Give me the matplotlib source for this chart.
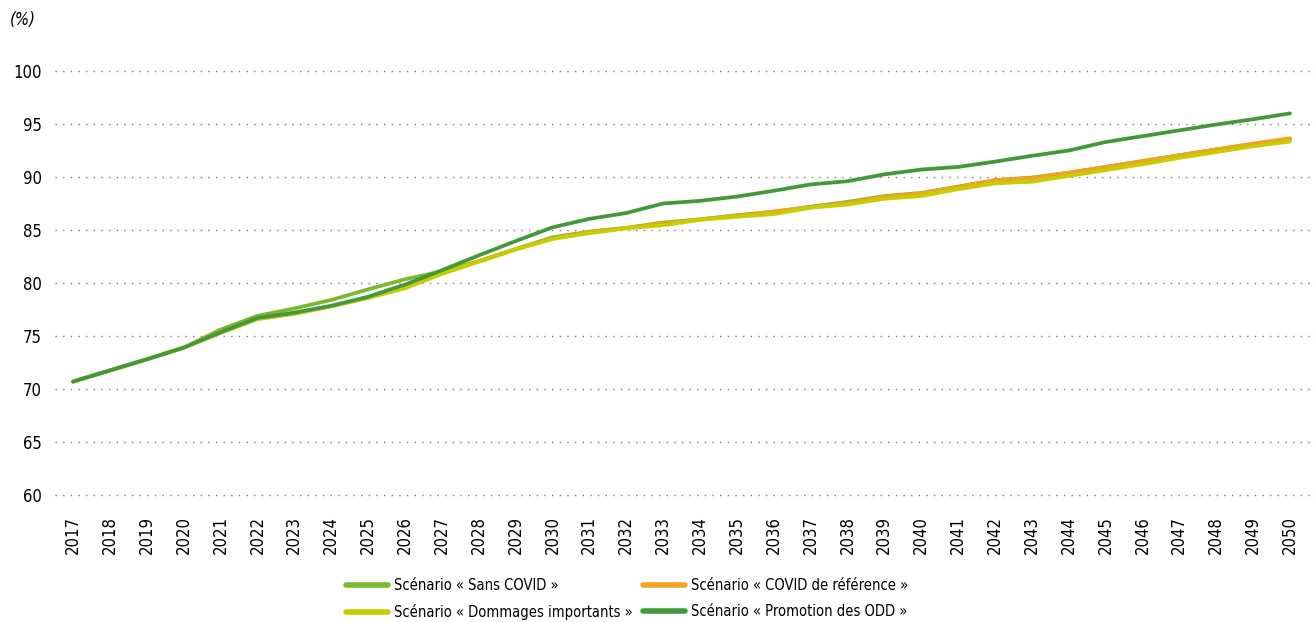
import matplotlib
matplotlib.use("Agg")
import matplotlib.pyplot as plt
from matplotlib import font_manager

years = list(range(2017, 2051))

sans_covid = [70.7, 71.75, 72.8, 73.9, 75.6, 76.9, 77.6, 78.4, 79.4, 80.35,
              81.1, 82.05, 83.2, 84.3, 84.85, 85.2, 85.7, 86.0, 86.4, 86.7,
              87.2, 87.65, 88.2, 88.5, 89.1, 89.7, 89.95, 90.4, 90.95, 91.5,
              92.05, 92.6, 93.1, 93.55]
covid_reference = [70.7, 71.75, 72.8, 73.9, 75.3, 76.6, 77.1, 77.8, 78.6, 79.55,
                   80.9, 82.05, 83.2, 84.2, 84.8, 85.2, 85.6, 86.0, 86.35, 86.75,
                   87.15, 87.55, 88.15, 88.45, 89.05, 89.7, 89.9, 90.4, 90.95, 91.5,
                   92.05, 92.6, 93.15, 93.65]
dommages_importants = [70.7, 71.75, 72.8, 73.9, 75.3, 76.6, 77.1, 77.8, 78.6, 79.5,
                       80.85, 82.0, 83.15, 84.15, 84.7, 85.15, 85.45, 85.95, 86.25, 86.5,
                       87.1, 87.4, 87.95, 88.2, 88.85, 89.4, 89.55, 90.1, 90.65, 91.2,
                       91.8, 92.35, 92.9, 93.35]
promotion_odd = [70.7, 71.75, 72.8, 73.9, 75.35, 76.7, 77.2, 77.85, 78.7, 79.85,
                 81.2, 82.6, 83.95, 85.25, 86.05, 86.6, 87.5, 87.75, 88.15, 88.7,
                 89.3, 89.6, 90.25, 90.7, 90.95, 91.45, 92.0, 92.5, 93.3, 93.85,
                 94.4, 94.95, 95.45, 96.0]

series_labels = ["Scénario « Sans COVID »", "Scénario « COVID de référence »",
                 "Scénario « Dommages importants »", "Scénario « Promotion des ODD »"]
series_colors = ["#7cb82f", "#f2a21e", "#c5cf00", "#42993a"]
y_ticks = [60, 65, 70, 75, 80, 85, 90, 95, 100]

# Prefer a condensed sans face if one is installed
narrow_family = None
narrow_stretch = "normal"
for f in font_manager.fontManager.ttflist:
    if f.style != "normal" or f.weight not in (400, "normal", "regular"):
        continue
    if "Narrow" in f.name or "Condensed" in f.name:
        narrow_family, narrow_stretch = f.name, "normal"
        break
    if f.stretch in ("condensed", "semi-condensed", "extra-condensed") and f.name in (
            "Roboto", "Open Sans", "Noto Sans", "Liberation Sans", "DejaVu Sans", "Lato", "Inter"):
        narrow_family, narrow_stretch = f.name, f.stretch
        break

if narrow_family:
    plt.rcParams["font.family"] = [narrow_family, "DejaVu Sans"]
    plt.rcParams["font.stretch"] = narrow_stretch
    tick_fs, ytick_fs, leg_fs, colsp = 12, 12, 10.5, 0.7
else:
    plt.rcParams["font.family"] = ["Liberation Sans", "DejaVu Sans"]
    tick_fs, ytick_fs, leg_fs, colsp = 12, 12, 10, 1.0

fig = plt.figure(figsize=(13.16, 6.22), dpi=100)
ax = fig.add_axes([55 / 1316, 1 - 495 / 622, 1 - 55 / 1316, (495 - 71) / 622])

handles = []
for vals, lab, col in zip([sans_covid, covid_reference, dommages_importants, promotion_odd],
                          series_labels, series_colors):
    h, = ax.plot(years, vals, color=col, lw=2.7, label=lab, solid_capstyle="round",
                 solid_joinstyle="round", clip_on=False, zorder=3)
    handles.append(h)

ax.set_ylim(60, 100)
ax.set_xlim(2017 - 18 / 36.88, 2050 + 26 / 36.88)
ax.set_yticks(y_ticks)
ax.set_xticks(years)
ax.set_xticklabels([str(y) for y in years], rotation=90, fontsize=tick_fs)
ax.tick_params(axis="y", labelsize=ytick_fs, length=0, pad=9.5)
ax.tick_params(axis="x", length=0, pad=15)
ax.grid(axis="y", color="#7a7a7a", linestyle=(0, (1, 4.5)), lw=1.0)
ax.set_axisbelow(True)
for gl in ax.yaxis.get_gridlines():
    gl.set_clip_on(False)
for s in ax.spines.values():
    s.set_visible(False)

fig.text(10 / 1316, 1 - 20 / 622, "(%)", fontsize=ytick_fs, style="italic",
         va="center", ha="left")

# legend rows: Sans COVID / COVID de référence, then Dommages / ODD
order = [0, 2, 1, 3]
leg = fig.legend(handles=[handles[i] for i in order],
                 labels=[series_labels[i] for i in order],
                 ncol=2, loc="center left", bbox_to_anchor=(333 / 1316, 1 - 599 / 622),
                 frameon=False, fontsize=leg_fs, handlelength=2.9, handletextpad=0.4,
                 columnspacing=colsp, labelspacing=0.75)
for ln in leg.get_lines():
    ln.set_linewidth(4)

fig.savefig("out.png", dpi=100)
